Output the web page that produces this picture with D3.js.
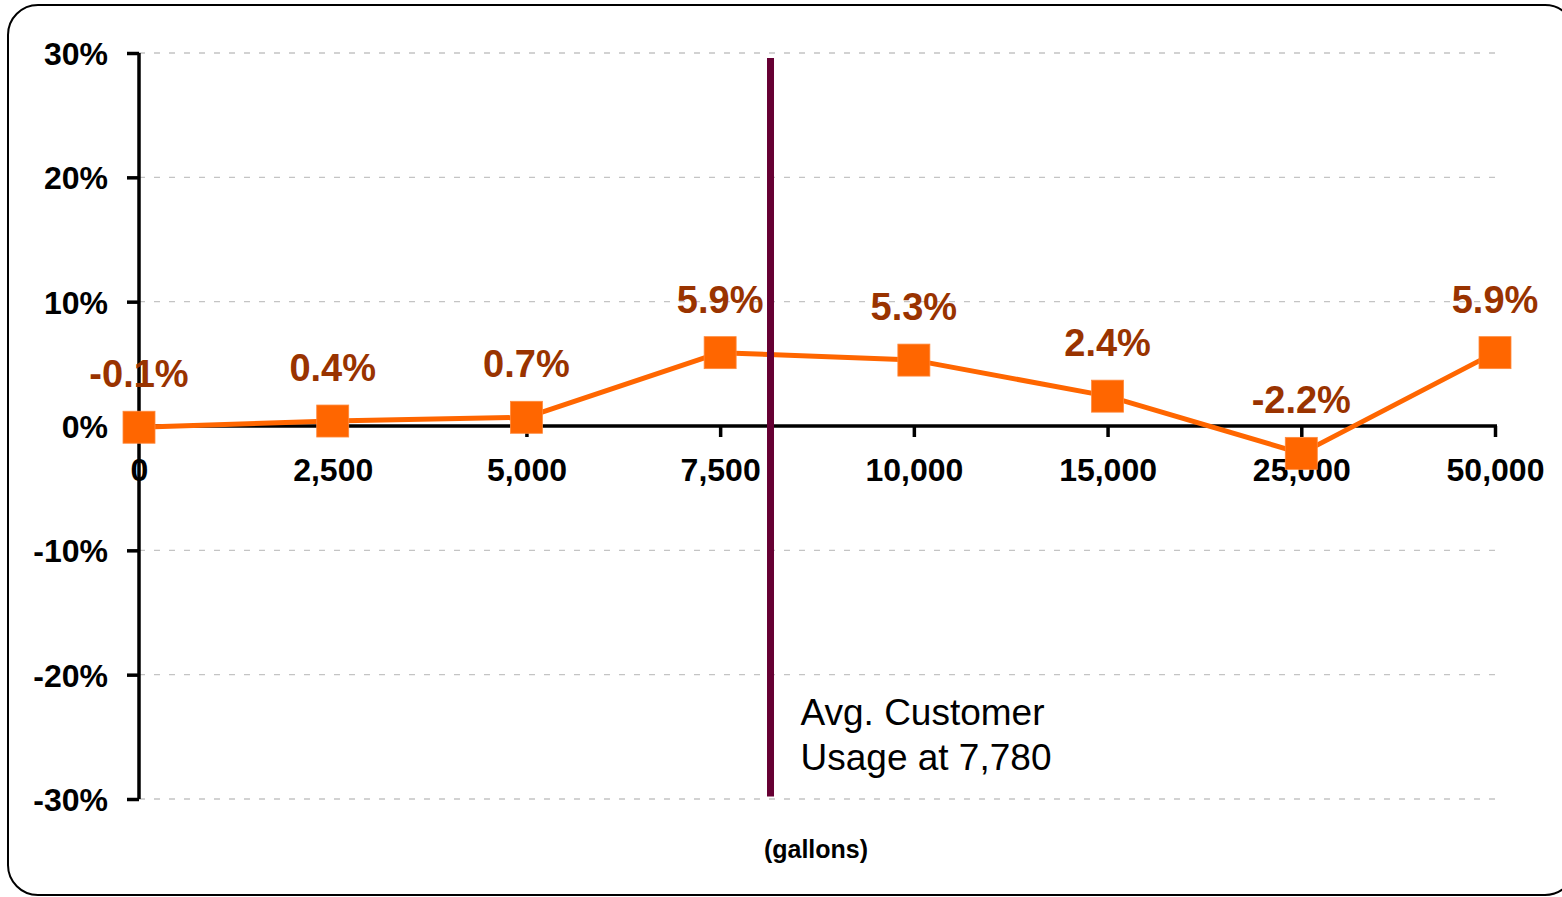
<!DOCTYPE html>
<html>
<head>
<meta charset="utf-8">
<script src="https://cdn.jsdelivr.net/npm/d3@7"></script>
<style>
  html, body { margin: 0; padding: 0; background: #fff; }
  svg { display: block; font-family: "Liberation Sans", Arial, sans-serif; }
</style>
</head>
<body>
<svg id="chart" width="1562" height="897"></svg>
<script>
// Monthly usage levels (gallons) and the percent change of the bill at each level
const usageLevels = ["0", "2,500", "5,000", "7,500", "10,000", "15,000", "25,000", "50,000"];
const pctChange = [-0.1, 0.4, 0.7, 5.9, 5.3, 2.4, -2.2, 5.9];
const yTicks = [-30, -20, -10, 0, 10, 20, 30];
const avgUsageLabel = ["Avg. Customer", "Usage at 7,780"];
// where 7,780 gallons sits along the category axis (between 7,500 and 10,000)
const avgUsagePos = 3.26;

const svg = d3.select("#chart");

// rounded frame around the chart
svg.append("rect")
  .attr("x", 8).attr("y", 5)
  .attr("width", 1567).attr("height", 890)
  .attr("rx", 30).attr("ry", 30)
  .attr("fill", "#fff")
  .attr("stroke", "#000")
  .attr("stroke-width", 2);

const plotLeft = 139, plotRight = 1495, plotTop = 53, plotBottom = 799;

const x = d3.scalePoint().domain(usageLevels).range([plotLeft, plotRight]).padding(0);
const xIdx = d3.scaleLinear().domain([0, usageLevels.length - 1]).range([plotLeft, plotRight]);
const y = d3.scaleLinear().domain([-30, 30]).range([plotBottom, plotTop]);

// dashed horizontal gridlines
svg.append("g")
  .selectAll("line")
  .data(yTicks.filter(d => d !== 0))
  .join("line")
  .attr("x1", plotLeft).attr("x2", 1497)
  .attr("y1", d => y(d)).attr("y2", d => y(d))
  .attr("stroke", "#c4c4c4")
  .attr("stroke-width", 1.3)
  .attr("stroke-dasharray", "6,9");

// y axis
const yAxis = svg.append("g")
  .attr("transform", `translate(${plotLeft},0)`)
  .call(d3.axisLeft(y).tickValues(yTicks).tickSize(12).tickPadding(19)
    .tickFormat(d => d + "%"));
yAxis.select(".domain").attr("stroke", "#000").attr("stroke-width", 3.5)
  .attr("d", `M0,${plotTop}V${plotBottom}`);
yAxis.selectAll(".tick line").attr("stroke", "#000").attr("stroke-width", 3.5);
yAxis.selectAll(".tick text")
  .attr("font-family", "'Liberation Sans', Arial, sans-serif")
  .attr("font-size", 32).attr("font-weight", "bold").attr("fill", "#000")
  .attr("dy", "0.36em");

// x axis along zero
const xAxis = svg.append("g")
  .attr("transform", `translate(0,${y(0)})`)
  .call(d3.axisBottom(x).tickSize(11).tickPadding(21));
xAxis.select(".domain").attr("stroke", "#000").attr("stroke-width", 3.5)
  .attr("d", `M${plotLeft},0H${plotRight + 2}`);
xAxis.selectAll(".tick line").attr("stroke", "#000").attr("stroke-width", 3.5);
xAxis.selectAll(".tick text")
  .attr("font-family", "'Liberation Sans', Arial, sans-serif")
  .attr("font-size", 32).attr("font-weight", "bold").attr("fill", "#000")
  .attr("dy", "0.71em");

// percent change series
const pts = usageLevels.map((u, i) => ({ u, v: pctChange[i] }));
svg.append("path")
  .datum(pts)
  .attr("fill", "none")
  .attr("stroke", "#ff6600")
  .attr("stroke-width", 5)
  .attr("stroke-linejoin", "round")
  .attr("d", d3.line().x(d => x(d.u)).y(d => y(d.v)));

const ms = 32;
svg.append("g")
  .selectAll("rect")
  .data(pts)
  .join("rect")
  .attr("x", d => x(d.u) - ms / 2)
  .attr("y", d => y(d.v) - ms / 2)
  .attr("width", ms).attr("height", ms)
  .attr("fill", "#ff6600")
  .attr("stroke", "#ff8a3d")
  .attr("stroke-width", 0.8);

// value labels
svg.append("g")
  .selectAll("text")
  .data(pts)
  .join("text")
  .attr("x", d => x(d.u))
  .attr("y", d => y(d.v) - 40)
  .attr("text-anchor", "middle")
  .attr("font-size", 38)
  .attr("font-weight", "bold")
  .attr("fill", "#993300")
  .text(d => d.v.toFixed(1) + "%");

// average customer usage marker
const ax = xIdx(avgUsagePos);
svg.append("line")
  .attr("x1", ax).attr("x2", ax)
  .attr("y1", y(29.6)).attr("y2", y(-29.8))
  .attr("stroke", "#660033")
  .attr("stroke-width", 7);

svg.append("text")
  .attr("y", 725)
  .attr("font-size", 37)
  .attr("fill", "#000")
  .selectAll("tspan")
  .data(avgUsageLabel)
  .join("tspan")
  .attr("x", ax + 30)
  .attr("dy", (d, i) => i === 0 ? 0 : 45)
  .text(d => d);

// axis unit
svg.append("text")
  .attr("x", 816)
  .attr("y", 858)
  .attr("text-anchor", "middle")
  .attr("font-size", 25)
  .attr("font-weight", "bold")
  .attr("fill", "#000")
  .text("(gallons)");
</script>
</body>
</html>
